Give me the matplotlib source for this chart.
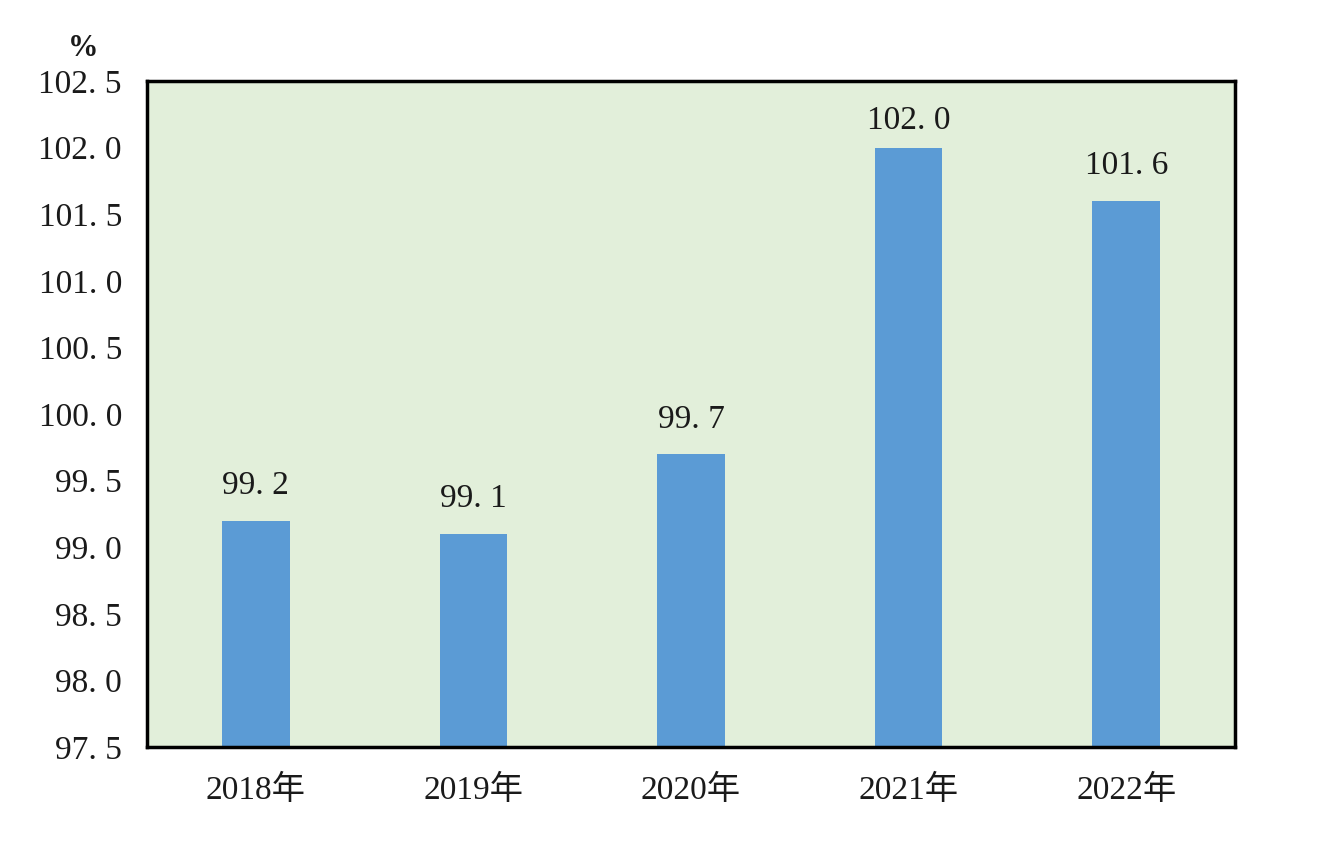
import matplotlib
matplotlib.use("Agg")
import matplotlib.pyplot as plt

categories = ["2018年", "2019年", "2020年", "2021年", "2022年"]
values = [99.2, 99.1, 99.7, 102.0, 101.6]
yticks = [97.5, 98.0, 98.5, 99.0, 99.5, 100.0, 100.5, 101.0, 101.5, 102.0, 102.5]
unit = "%"

FONT = ["Liberation Serif", "Noto Sans CJK SC", "DejaVu Sans"]
plt.rcParams["font.family"] = FONT

def fmt(v):
    return f"{v:.1f}".replace(".", ". ")

fig = plt.figure(figsize=(13.24, 8.52), dpi=100)
fig.patch.set_facecolor("white")
ax = fig.add_axes([147/1324, 1 - 747/852, (1235-147)/1324, (747-81)/852])
ax.set_facecolor("#E2EFDA")

x = list(range(len(categories)))
bars = ax.bar(x, values, width=0.31, color="#5B9BD5", bottom=0,
              zorder=2)
ax.set_xlim(-0.5, len(categories) - 0.5)
ax.set_ylim(yticks[0], yticks[-1])

ax.set_yticks(yticks)
ax.set_yticklabels([fmt(t) for t in yticks], fontsize=24, color="#1a1a1a")
ax.set_xticks(x)
ax.set_xticklabels(categories, fontsize=24, color="#1a1a1a")
ax.tick_params(axis="both", length=0)
ax.tick_params(axis="y", pad=18)
ax.tick_params(axis="x", pad=20)

for s in ax.spines.values():
    s.set_linewidth(2.5)
    s.set_color("black")

label_gap = 0.26
label_cap = yticks[-1] - 0.30
for xi, v in zip(x, values):
    ax.text(xi, min(v + label_gap, label_cap), fmt(v), ha="center",
            va="center", fontsize=24, color="#1a1a1a")

fig.text(83/1324, 1 - 48/852, unit, ha="center", va="center", fontsize=22,
         color="#1a1a1a", fontweight="bold")

fig.savefig("out.png", dpi=100, facecolor="white")
